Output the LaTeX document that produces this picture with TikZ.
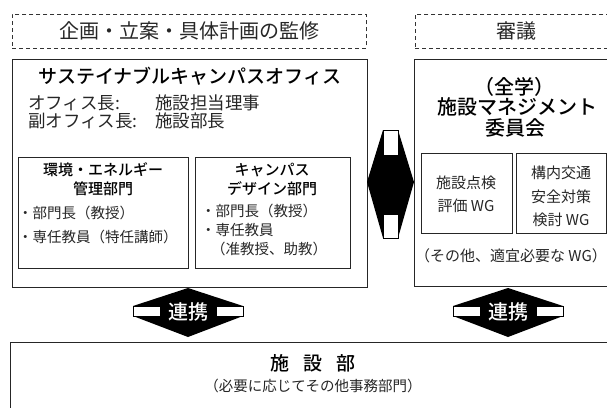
\documentclass[tikz,border=0pt]{standalone}
\usepackage{fontspec}
\setmainfont{Noto Sans CJK JP}[BoldFont={Noto Sans CJK JP Medium}]
\newcommand{\fsz}[1]{\fontsize{#1}{#1}\selectfont}
\begin{document}
\begin{tikzpicture}[x=1pt,y=-1pt,
  box/.style={draw=black!85,line width=0.9pt,inner sep=0,anchor=north west},
  dbox/.style={draw=black!80,line width=0.9pt,dash pattern=on 4pt off 3pt,inner sep=0,anchor=north west},
  txt/.style={inner sep=0,text=black!85},
  btxt/.style={inner sep=0,text=black,font=\bfseries},
  arrowfill/.style={fill=black,draw=none},
  notch/.style={fill=white,draw=black,line width=0.8pt}]
\useasboundingbox (0,0) rectangle (607,407);
% --- boxes
\node[dbox,minimum width=354pt,minimum height=34pt] (plan) at (12,14) {};
\node[dbox,minimum width=210pt,minimum height=34pt] (deliberate) at (415,14) {};
\node[box,minimum width=355pt,minimum height=228pt] (office) at (12,59) {};
\node[box,minimum width=206pt,minimum height=227pt] (committee) at (414,59) {};
\node[box,minimum width=170pt,minimum height=111pt] (deptA) at (18,157) {};
\node[box,minimum width=155pt,minimum height=111pt] (deptB) at (195,157) {};
\node[box,minimum width=91pt,minimum height=80pt] (wgC) at (421,153) {};
\node[box,minimum width=90pt,minimum height=80pt] (wgD) at (516,153) {};
\node[box,minimum width=612pt,minimum height=80pt] (facility) at (10,342) {};
% --- texts
\node[txt,font=\fsz{20}] (plantxt) at (189,31) {企画・立案・具体計画の監修};
\node[txt,font=\fsz{20}] (delibtxt) at (516,31) {審議};
\node[btxt,font=\bfseries\fsz{19}] (officettl) at (190,76) {サステイナブルキャンパスオフィス};
\node[txt,font=\fsz{17.5},anchor=west] (head1) at (28,103) {オフィス長:};
\node[txt,font=\fsz{17.5},anchor=west] (head1v) at (155,103) {施設担当理事};
\node[txt,font=\fsz{17.5},anchor=west] (head2) at (28,121) {副オフィス長:};
\node[txt,font=\fsz{17.5},anchor=west] (head2v) at (155,121) {施設部長};
\node[btxt,font=\bfseries\fsz{15}] (attl1) at (103,170) {環境・エネルギー};
\node[btxt,font=\bfseries\fsz{15}] (attl2) at (103,189) {管理部門};
\node[txt,font=\fsz{14.5},anchor=west] (a1) at (18,213) {・部門長（教授）};
\node[txt,font=\fsz{14.5},anchor=west] (a2) at (18,237) {・専任教員（特任講師）};
\node[btxt,font=\bfseries\fsz{15}] (bttl1) at (272,170) {キャンパス};
\node[btxt,font=\bfseries\fsz{15}] (bttl2) at (272,189) {デザイン部門};
\node[txt,font=\fsz{14.5},anchor=west] (b1) at (201,211) {・部門長（教授）};
\node[txt,font=\fsz{14.5},anchor=west] (b2) at (201,230) {・専任教員};
\node[txt,font=\fsz{14.5},anchor=west] (b3) at (211,249) {（准教授、助教）};
\node[btxt,font=\bfseries\fsz{20}] (cttl1) at (514,87) {（全学）};
\node[btxt,font=\bfseries\fsz{20}] (cttl2) at (517,107) {施設マネジメント};
\node[btxt,font=\bfseries\fsz{20}] (cttl3) at (515,128) {委員会};
\node[txt,font=\fsz{15}] (c1) at (466,183) {施設点検};
\node[txt,font=\fsz{15}] (c2) at (466,206) {評価 WG};
\node[txt,font=\fsz{15}] (d1) at (561,173) {構内交通};
\node[txt,font=\fsz{15}] (d2) at (561,197) {安全対策};
\node[txt,font=\fsz{15}] (d3) at (561,220) {検討 WG};
\node[txt,font=\fsz{15}] (cother) at (511,256) {（その他、適宜必要な WG）};
\node[btxt,font=\bfseries\fsz{19}] (facttl) at (313,363) {施\hspace{0.75em}設\hspace{0.75em}部};
\node[txt,font=\fsz{14.5}] (facsub) at (313,386) {（必要に応じてその他事務部門）};
% --- link shapes
\foreach \cx/\nm in {188/left,508/right}{
  \fill[arrowfill] (\cx,288) -- (\cx+55,306) -- (\cx+55,316) -- (\cx,337) -- (\cx-55,316) -- (\cx-55,306) -- cycle;
  \draw[notch] (\cx-55,306) rectangle (\cx-28,316);
  \draw[notch] (\cx+28,306) rectangle (\cx+55,316);
  \node[inner sep=0,text=white,font=\bfseries\fsz{20}] (renkei\nm) at (\cx,312) {連携};
}
\fill[arrowfill] (383,130) -- (398,130) -- (414,182) -- (398,238) -- (383,238) -- (367,182) -- cycle;
\draw[notch] (383,130) rectangle (398,155);
\draw[notch] (383,214) rectangle (398,238);
\end{tikzpicture}
\end{document}
